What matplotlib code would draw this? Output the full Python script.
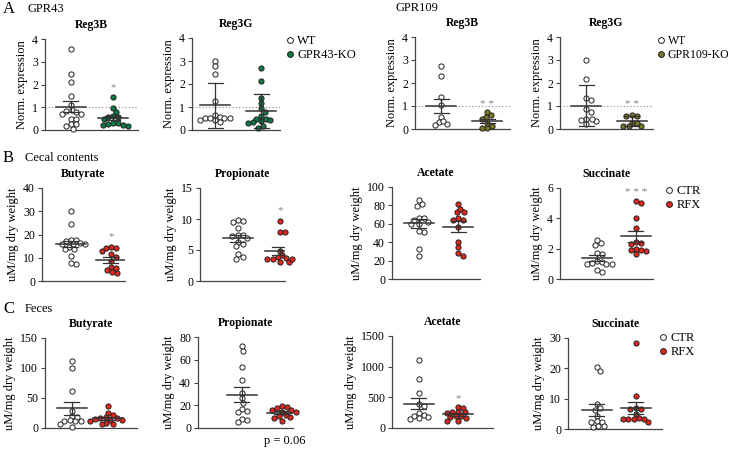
import numpy as np
import matplotlib.pyplot as plt
from matplotlib.lines import Line2D

plt.rcParams['font.family'] = ['Liberation Serif', 'DejaVu Serif']

# ---- data ----
# A: GPR43
gpr43_reg3b_wt = [3.57, 2.46, 2.09, 1.5, 1.09, 0.88, 0.84, 0.78, 0.72, 0.7, 0.49, 0.49, 0.25, 0.25, 0.16, 0.06]
gpr43_reg3b_ko = [1.46, 0.96, 0.78, 0.62, 0.56, 0.5, 0.59, 0.29, 0.22, 0.18, 0.22, 0.25, 0.31]
gpr43_reg3g_wt = [3.0, 2.78, 2.45, 1.26, 0.65, 0.57, 0.51, 0.43, 0.33, 0.43, 0.51, 0.51, 0.54]
gpr43_reg3g_ko = [2.7, 2.13, 1.41, 1.19, 0.94, 0.8, 0.61, 0.5, 0.5, 0.39, 0.32, 0.43, 0.33, 0.1, 0.19]
# A: GPR109
gpr109_reg3b_wt = [2.72, 2.29, 1.39, 1.03, 0.54, 0.29, 0.16, 0.22, 0.35]
gpr109_reg3b_ko = [0.75, 0.54, 0.61, 0.43, 0.14, 0.03, 0.03, 0.25]
gpr109_reg3g_wt = [3.0, 2.16, 1.26, 1.33, 0.87, 0.75, 0.43, 0.39, 0.2, 0.35, 0.43]
gpr109_reg3g_ko = [0.57, 0.57, 0.61, 0.28, 0.28, 0.12, 0.12, 0.12]
# B: cecal contents
cecal_but_ctr = [30.2, 24.5, 17.2, 17.8, 17.6, 16.0, 15.8, 16.0, 16.3, 13.6, 14.5, 13.6, 10.9, 7.2, 7.6]
cecal_but_rfx = [14.3, 12.8, 14.0, 14.6, 10.5, 11.6, 8.6, 6.0, 4.6, 3.3, 3.7, 5.7]
cecal_pro_ctr = [9.8, 9.5, 9.7, 8.6, 7.4, 7.4, 7.3, 6.9, 6.3, 6.0, 5.6, 4.3, 3.9, 3.6]
cecal_pro_rfx = [9.7, 7.9, 7.9, 4.9, 4.2, 3.7, 3.6, 3.5, 3.1, 3.0, 3.6, 3.8]
cecal_ace_ctr = [81.3, 79.5, 85.6, 62, 60, 66, 60, 66, 64, 51, 52, 33, 25]
cecal_ace_rfx = [73, 76.6, 81.3, 73, 64, 66, 64, 56, 40.6, 34.5, 25, 28]
cecal_suc_ctr = [2.35, 2.25, 2.55, 1.65, 1.7, 1.2, 1.1, 1.0, 1.0, 1.05, 1.0, 0.6, 0.45]
cecal_suc_rfx = [4.98, 5.15, 4.0, 3.34, 2.36, 2.31, 2.47, 1.99, 1.88, 1.66, 1.86, 1.92]
# C: feces
fec_but_ctr = [112, 100, 61, 28, 20, 19, 12, 13, 12, 11, 6, 2]
fec_but_rfx = [36, 25, 21, 18, 17, 16.5, 15.5, 14, 13, 11, 9, 7, 6]
fec_pro_ctr = [72, 68, 54, 42, 31, 26, 22, 17, 15, 14, 8, 7, 5]
fec_pro_rfx = [19, 18.5, 17.5, 16, 15.5, 14, 14, 11, 10.5, 10, 9, 6]
fec_ace_ctr = [1110, 800, 570, 390, 360, 240, 220, 200, 180, 160, 150]
fec_ace_rfx = [340, 330, 260, 255, 260, 245, 200, 190, 170, 180, 120, 115]
fec_suc_ctr = [20.5, 19.2, 8.2, 6.9, 6.3, 4.2, 2.5, 2.4, 2.3, 1.0, 0.8, 0.9]
fec_suc_rfx = [28.3, 10.9, 6.8, 6.6, 6.5, 4.8, 3.5, 3.4, 3.3, 3.3, 3.2, 2.3]

WHITE = 'white'
GREEN = '#0b7a45'
OLIVE = '#7a7a22'
RED = '#e4261d'
EDGE = '#222222'
AXC = '#444444'

W, H = 730, 449
fig = plt.figure(figsize=(7.3, 4.49), dpi=100)


def swarm(vals, d, ppu_y):
    # simple beeswarm: pixel x offsets so markers do not overlap
    vals = np.asarray(vals, float)
    cands = [0.0]
    for k in range(1, 80):
        cands += [k * d * 0.15, -k * d * 0.15]
    placed = []
    offs = np.zeros(len(vals))
    for i in np.argsort(-vals):
        y = vals[i] * ppu_y
        for c in cands:
            if all((c - px) ** 2 + (y - py) ** 2 >= (0.92 * d) ** 2 for px, py in placed):
                break
        placed.append((c, y))
        offs[i] = c
    return offs


def panel(box, xlim, ytop, yticks, groups, title, ylabel, err='sem',
          ref=None, star=None, star_y=None):
    x0, x1, y0, y1 = box
    ax = fig.add_axes([x0 / W, 1 - y1 / H, (x1 - x0) / W, (y1 - y0) / H])
    ax.set_xlim(*xlim)
    ax.set_ylim(0, ytop)
    ppu_x = (x1 - x0) / (xlim[1] - xlim[0])
    ppu_y = (y1 - y0) / ytop
    if ref is not None:
        ax.axhline(ref, color='#888888', lw=0.8, ls=(0, (1, 2)), zorder=1)
    for c, (vals, fc) in enumerate(groups):
        vals = np.asarray(vals, float)
        offs = swarm(vals, 5.2, ppu_y)
        ax.scatter(c + offs / ppu_x, vals, s=14, facecolor=fc, edgecolor=EDGE,
                   linewidth=0.7, zorder=3, clip_on=False)
        m = vals.mean()
        e = vals.std(ddof=1)
        if err == 'sem':
            e = e / np.sqrt(len(vals))
        lc = '#333333'
        ax.plot([c - 15 / ppu_x, c + 15 / ppu_x], [m, m], color=lc, lw=1.1, zorder=4)
        ax.plot([c, c], [m - e, m + e], color=lc, lw=0.9, zorder=4)
        for yy in (m - e, m + e):
            ax.plot([c - 7.5 / ppu_x, c + 7.5 / ppu_x], [yy, yy], color=lc, lw=0.9, zorder=4)
    if star:
        ax.text(1, star_y, star, ha='center', va='center', color='#888888', fontsize=8)
    for s in ('top', 'right'):
        ax.spines[s].set_visible(False)
    for s in ('left', 'bottom'):
        ax.spines[s].set_color(AXC)
        ax.spines[s].set_linewidth(0.9)
    ax.set_xticks([])
    ax.set_yticks(yticks)
    ax.tick_params(axis='y', length=3, width=0.8, color=AXC, labelsize=8.5, pad=2)
    ax.set_title(title, fontsize=8.5, fontweight='bold', pad=8)
    ax.set_ylabel(ylabel, fontsize=9, labelpad=3)
    return ax


def legend(ax, labels, colors, xy, fs=9):
    handles = [Line2D([], [], ls='none', marker='o', markersize=4.2, markerfacecolor=fc,
                      markeredgecolor=EDGE, markeredgewidth=0.7) for fc in colors]
    ax.legend(handles, labels, loc='upper left', bbox_to_anchor=(xy[0] / W, 1 - xy[1] / H),
              bbox_transform=fig.transFigure, frameon=False, fontsize=fs,
              handlelength=0.6, handletextpad=0.3, labelspacing=0.15, borderpad=0,
              borderaxespad=0)


NE = 'Norm. expression'
UM = 'uM/mg dry weight'
tA = [0, 1, 2, 3, 4]

# row A
panel((45, 138, 39, 130), (-0.62, 1.6), 4, tA,
      [(gpr43_reg3b_wt, WHITE), (gpr43_reg3b_ko, GREEN)], 'Reg3B', NE,
      ref=1, star='*', star_y=1.88)
ax = panel((192, 280, 38, 130), (-0.5, 1.41), 4, tA,
           [(gpr43_reg3g_wt, WHITE), (gpr43_reg3g_ko, GREEN)], 'Reg3G', NE,
           err='sd', ref=1)
legend(ax, ['WT', 'GPR43-KO'], [WHITE, GREEN], (286, 35))
panel((415, 510, 37, 129), (-0.57, 1.5), 4, tA,
      [(gpr109_reg3b_wt, WHITE), (gpr109_reg3b_ko, OLIVE)], 'Reg3B', NE,
      ref=1, star='* *', star_y=1.08)
ax = panel((560, 653, 37, 129), (-0.57, 1.46), 4, tA,
           [(gpr109_reg3g_wt, WHITE), (gpr109_reg3g_ko, OLIVE)], 'Reg3G', NE,
           err='sd', ref=1, star='* *', star_y=1.08)
legend(ax, ['WT', 'GPR109-KO'], [WHITE, OLIVE], (657, 35), fs=8.5)

# row B
panel((42, 125, 188, 281), (-0.72, 1.35), 40, [0, 10, 20, 30, 40],
      [(cecal_but_ctr, WHITE), (cecal_but_rfx, RED)], 'Butyrate', UM,
      star='*', star_y=19)
panel((200, 285, 188, 281), (-0.9, 1.12), 15, [0, 5, 10, 15],
      [(cecal_pro_ctr, WHITE), (cecal_pro_rfx, RED)], 'Propionate', UM,
      star='*', star_y=11.4)
panel((392, 480, 187, 279), (-0.69, 1.56), 100, [0, 20, 40, 60, 80, 100],
      [(cecal_ace_ctr, WHITE), (cecal_ace_rfx, RED)], 'Acetate', UM)
ax = panel((560, 653, 188, 279), (-0.95, 1.44), 6, [0, 2, 4, 6],
           [(cecal_suc_ctr, WHITE), (cecal_suc_rfx, RED)], 'Succinate', UM,
           star='* * *', star_y=5.7)
legend(ax, ['CTR', 'RFX'], [WHITE, RED], (665, 185))

# row C
panel((45, 137, 338, 428), (-0.75, 1.81), 150, [0, 50, 100, 150],
      [(fec_but_ctr, WHITE), (fec_but_rfx, RED)], 'Butyrate', UM)
panel((198, 293, 337, 428), (-1.1, 1.28), 80, [0, 20, 40, 60, 80],
      [(fec_pro_ctr, WHITE), (fec_pro_rfx, RED)], 'Propionate', UM)
panel((392, 493, 336, 428), (-0.69, 1.9), 1500, [0, 500, 1000, 1500],
      [(fec_ace_ctr, WHITE), (fec_ace_rfx, RED)], 'Acetate', UM,
      star='*', star_y=480)
ax = panel((568, 662, 338, 429), (-0.74, 1.67), 30, [0, 10, 20, 30],
           [(fec_suc_ctr, WHITE), (fec_suc_rfx, RED)], 'Succinate', UM)
legend(ax, ['CTR', 'RFX'], [WHITE, RED], (659, 332))

# panel letters and headings
for x, y, s, fs in [(3, 9, 'A', 12), (3, 158, 'B', 12), (3, 309, 'C', 12)]:
    fig.text(x / W, 1 - y / H, s, fontsize=fs, va='center')
for x, y, s in [(28, 9, 'GPR43'), (395, 8, 'GPR109'), (25, 158, 'Cecal contents'),
                (25, 309, 'Feces')]:
    fig.text(x / W, 1 - y / H, s, fontsize=9, va='center')
fig.text(285 / W, 1 - 441 / H, 'p = 0.06', fontsize=9, ha='center', va='center')

fig.savefig('out.png', dpi=100)
